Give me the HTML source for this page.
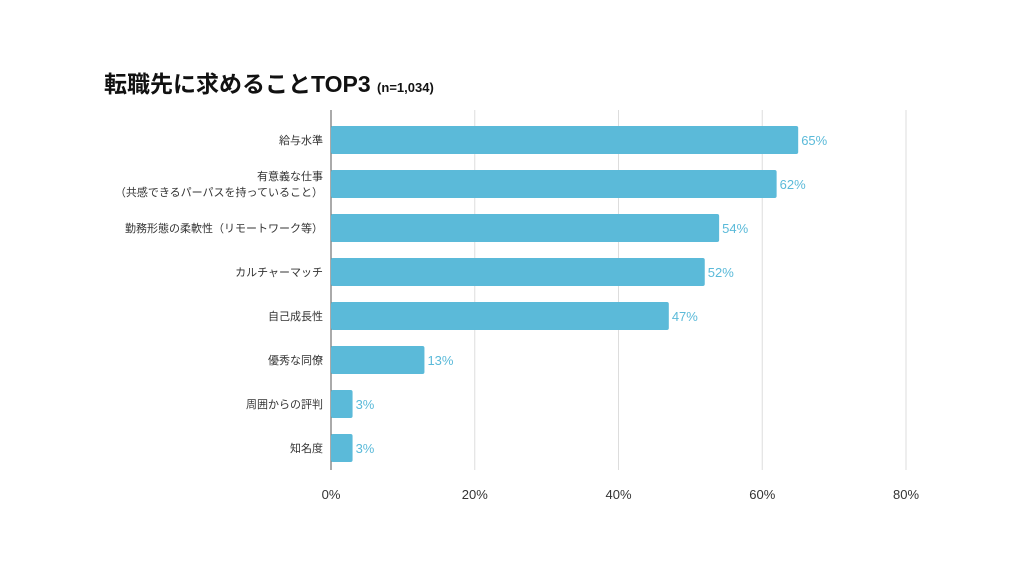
<!DOCTYPE html>
<html><head><meta charset="utf-8"><style>
body{margin:0;background:#fff;width:1024px;height:576px;overflow:hidden;font-family:"Liberation Sans","Noto Sans CJK JP",sans-serif}
</style></head><body>
<svg id="chart" width="1024" height="576" xmlns="http://www.w3.org/2000/svg" font-family="Liberation Sans, Noto Sans CJK JP, sans-serif">
<text x="104" y="92" font-size="23" font-weight="bold" fill="#111">転職先に求めることTOP3 <tspan font-size="13">(n=1,034)</tspan></text>
<g id="grid"></g><g id="bars"></g><g id="labels"></g>
</svg>
<script>
const categories=[["給与水準"],["有意義な仕事","（共感できるパーパスを持っていること）"],["勤務形態の柔軟性（リモートワーク等）"],["カルチャーマッチ"],["自己成長性"],["優秀な同僚"],["周囲からの評判"],["知名度"]];
const values=[65,62,54,52,47,13,3,3];
const ticks=[0,20,40,60,80];
const NS="http://www.w3.org/2000/svg";
const x0=331,pxPer=575/80,y0=126,step=44,bh=28;
const xs=v=>x0+v*pxPer;
const ys=i=>y0+i*step;
const grid=document.getElementById('grid'),bars=document.getElementById('bars'),labels=document.getElementById('labels');
function mk(tag,attrs,parent){const e=document.createElementNS(NS,tag);for(const k in attrs)e.setAttribute(k,attrs[k]);parent.appendChild(e);return e;}
ticks.forEach(t=>{
  const l=mk('line',{x1:xs(t),x2:xs(t),y1:110,y2:470,stroke:t===0?'#555':'#ddd','stroke-width':1},grid);
  
  
  const tx=mk('text',{x:xs(t),y:499,'text-anchor':'middle','font-size':13,fill:'#333'},grid);
  tx.textContent=t+'%';
  
  
});
values.forEach((v,i)=>{
  const r=mk('rect',{x:x0,y:ys(i),width:xs(v)-x0,height:bh,rx:2,fill:'#5bbad9'},bars);
  
  
  const vt=mk('text',{x:xs(v)+3,y:ys(i)+bh/2+5,'font-size':13,fill:'#5bbad9'},labels);
  vt.textContent=v+'%';
  
  
  const lines=categories[i];
  const cy=ys(i)+bh/2+4;
  lines.forEach((s,j)=>{
    const ct=mk('text',{x:323,y:cy+(j-(lines.length-1)/2)*16,'text-anchor':'end','font-size':11,fill:'#333'},labels);
    ct.textContent=s;
    
    
  });
});
</script>
</body></html>
